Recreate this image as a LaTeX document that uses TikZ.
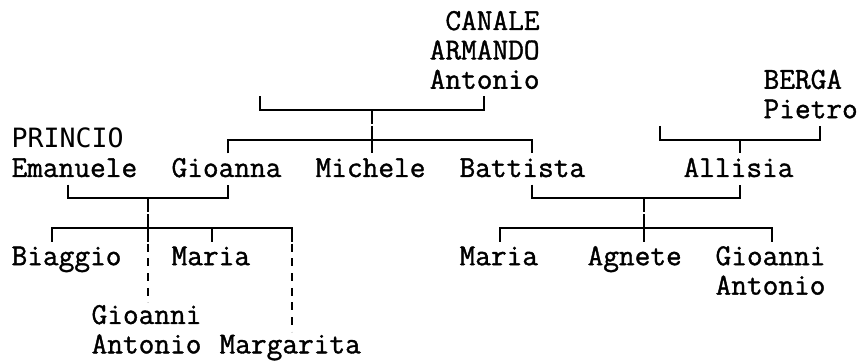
\documentclass[tikz,border=0pt]{standalone}
\usepackage{fontspec}
\setmonofont{Latin Modern Mono}[FakeBold=1.2]
\newfontfamily\sansmono{DejaVu Sans Mono}

\begin{document}
\begin{tikzpicture}[x=8pt, y=-14.7pt,
  persona/.style={anchor=base west, inner sep=0pt, align=left,
    font=\ttfamily\fontsize{15.24}{14.7}\selectfont},
  rama/.style={line width=1pt},
  incerto/.style={line width=1pt, dash pattern=on 4pt off 3.35pt}]
  \useasboundingbox (0,0) rectangle (54,12.279);

  % Personas
  \node[persona, anchor=base east, align=right] (canale) at (33.75,3.02) {CANALE\\ARMANDO\\Antonio};
  \node[persona] (berga) at (47.7,4.02) {BERGA\\Pietro};
  \node[persona] (princio) at (0.7,6.02) {{\sansmono\fontsize{13.29}{14.7}\selectfont PRINCIO}\\Emanuele};
  \node[persona] (gioanna) at (10.7,6.02) {Gioanna};
  \node[persona] (michele) at (19.7,6.02) {Michele};
  \node[persona] (battista) at (28.7,6.02) {Battista};
  \node[persona] (allisia) at (42.7,6.02) {Allisia};
  \node[persona] (biaggio) at (0.7,9.02) {Biaggio};
  \node[persona] (maria1) at (10.7,9.02) {Maria};
  \node[persona] (maria2) at (28.7,9.02) {Maria};
  \node[persona] (agnete) at (36.7,9.02) {Agnete};
  \node[persona] (gioanni2) at (44.7,10.02) {Gioanni\\Antonio};
  \node[persona] (gioanni1) at (5.7,12.02) {Gioanni\\Antonio};
  \node[persona] (margarita) at (13.7,12.02) {Margarita};

  % Puntos de las uniones
  \coordinate (canale-sx) at (16.25,3.28);
  \coordinate (canale-dx) at (30.25,3.28);
  \coordinate (u1) at (23.25,3.748);
  \coordinate (u1-fig) at (23.25,4.22);
  \coordinate (f1-top) at (23.25,4.28);
  \coordinate (f1) at (23.25,4.748);
  \coordinate (gioanna-t) at (14.25,5.22);
  \coordinate (michele-t) at (23.25,5.22);
  \coordinate (battista-t) at (33.25,5.22);

  \coordinate (berga-sx) at (41.25,4.28);
  \coordinate (berga-dx) at (51.25,4.28);
  \coordinate (u2) at (46.25,4.748);
  \coordinate (allisia-t) at (46.25,5.22);

  \coordinate (emanuele-b) at (4.25,6.28);
  \coordinate (gioanna-b) at (14.25,6.28);
  \coordinate (u3) at (9.25,6.748);
  \coordinate (u3-fig) at (9.25,7.22);
  \coordinate (f3-top) at (9.25,7.28);
  \coordinate (f3) at (9.25,7.748);
  \coordinate (biaggio-t) at (3.25,8.22);
  \coordinate (maria1-t) at (13.25,8.22);
  \coordinate (margarita-t) at (18.25,8.22);
  \coordinate (gioanni1-t) at (9.25,8.22);

  \coordinate (battista-b) at (33.25,6.28);
  \coordinate (allisia-b) at (46.25,6.28);
  \coordinate (u4) at (40.25,6.748);
  \coordinate (u4-fig) at (40.25,7.22);
  \coordinate (f4-top) at (40.25,7.28);
  \coordinate (f4) at (40.25,7.748);
  \coordinate (maria2-t) at (31.25,8.22);
  \coordinate (agnete-t) at (40.25,8.22);
  \coordinate (gioanni2-t) at (48.25,8.22);

  % Uniones
  \draw[rama] (canale-sx) |- (u1) -| (canale-dx);
  \draw[rama] (u1) -- (u1-fig);
  \draw[rama] (gioanna-t) |- (f1) -| (battista-t);
  \draw[rama] (f1-top) -- (michele-t);

  \draw[rama] (berga-sx) |- (u2) -| (berga-dx);
  \draw[rama] (u2) -- (allisia-t);

  \draw[rama] (emanuele-b) |- (u3) -| (gioanna-b);
  \draw[rama] (u3) -- (u3-fig);
  \draw[rama] (biaggio-t) |- (f3) -| (margarita-t);
  \draw[rama] (f3-top) -- (gioanni1-t);
  \draw[rama] (f3) -| (maria1-t);

  \draw[rama] (battista-b) |- (u4) -| (allisia-b);
  \draw[rama] (u4) -- (u4-fig);
  \draw[rama] (maria2-t) |- (f4) -| (gioanni2-t);
  \draw[rama] (f4-top) -- (agnete-t);

  % Figli incerti
  \draw[incerto] ([yshift=-1pt]gioanni1-t) -- ++(0,2);
  \draw[incerto] ([yshift=-1pt]margarita-t) -- ++(0,3);
\end{tikzpicture}
\end{document}
